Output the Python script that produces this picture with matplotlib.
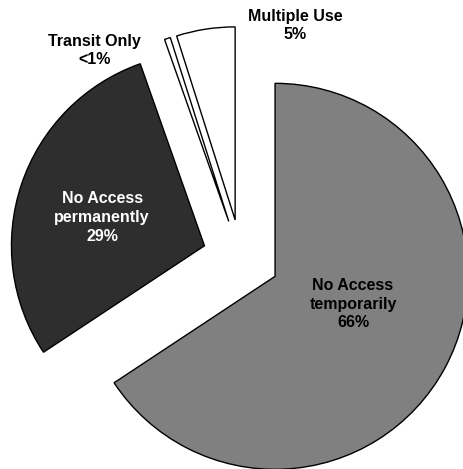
import matplotlib
matplotlib.use("Agg")
import matplotlib.pyplot as plt

# slice data (clockwise from top)
categories = ["No Access\ntemporarily", "No Access\npermanently", "Transit Only", "Multiple Use"]
shares = [65.7, 28.9, 0.5, 4.9]
share_labels = ["66%", "29%", "<1%", "5%"]
colors = ["#808080", "#2e2e2e", "#ffffff", "#ffffff"]

plt.rcParams["font.family"] = ["Liberation Sans", "DejaVu Sans"]

fig = plt.figure(figsize=(4.63, 4.69), dpi=100)
ax = fig.add_axes([0, 0, 1, 1])

wedges, _ = ax.pie(shares, colors=colors, startangle=90, counterclock=False,
                   explode=[0.2] * 4,
                   wedgeprops=dict(edgecolor="black", linewidth=1.0))

# label positions and colours
label_pos = [(0.58, -0.24), (-0.72, 0.21), (-0.76, 1.075), (0.28, 1.205)]
label_col = ["black", "white", "black", "black"]
for name, pct, (x, y), c in zip(categories, share_labels, label_pos, label_col):
    ax.text(x, y, f"{name}\n{pct}", ha="center", va="center", color=c,
            fontsize=11.5, fontweight="bold", linespacing=1.3)

ax.set_aspect("equal")
ax.set_xlim(-1.249, 1.150)
ax.set_ylim(-1.093, 1.337)
ax.axis("off")

fig.savefig("out.png", dpi=100)
